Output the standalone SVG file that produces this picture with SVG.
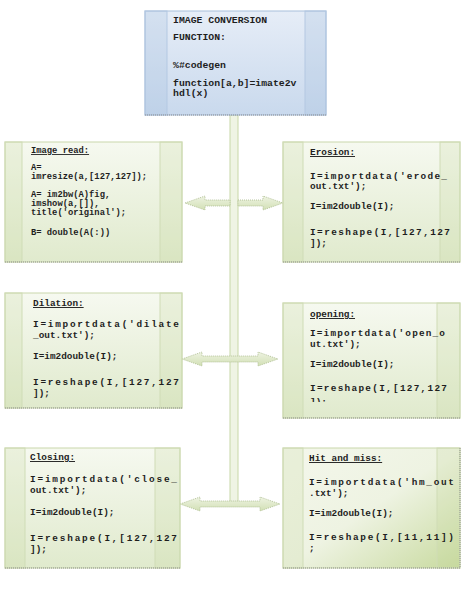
<svg xmlns="http://www.w3.org/2000/svg" width="467" height="597" viewBox="0 0 467 597">
<style>
.t{font-family:"Liberation Mono","Courier New",monospace;font-weight:bold;font-size:9.4px;fill:#1e1e1e}
.s{font-size:8.8px}
.h{font-size:9.8px}
.u{text-decoration:underline}
.box{fill:url(#gg);stroke:#c9d8ab;stroke-width:1}
.strip{fill:#c3d69b;fill-opacity:0.22;stroke:#cfdcb6;stroke-width:1}
.dot{stroke:#8f8f8f;stroke-width:1;stroke-dasharray:1 1;fill:none}
.arr{fill:url(#ag);stroke:#a8b98a;stroke-width:0.8;stroke-dasharray:1 1}
</style>
<defs>
<linearGradient id="gg" x1="0" y1="0" x2="0" y2="1">
<stop offset="0" stop-color="#f6f9f0"/>
<stop offset="1" stop-color="#e0eacd"/>
</linearGradient>
<linearGradient id="gh" x1="0" y1="0" x2="1" y2="1">
<stop offset="0" stop-color="#f4f7ec"/>
<stop offset="0.5" stop-color="#eef3e2"/>
<stop offset="1" stop-color="#c8da9f"/>
</linearGradient>
<linearGradient id="gb" x1="0" y1="0" x2="0" y2="1">
<stop offset="0" stop-color="#e6edf7"/>
<stop offset="1" stop-color="#c9d9ed"/>
</linearGradient>
<linearGradient id="ag" x1="0" y1="0" x2="0" y2="1">
<stop offset="0" stop-color="#eef3e2"/>
<stop offset="1" stop-color="#d2e0b5"/>
</linearGradient>
<clipPath id="cpOpen"><rect x="283" y="303" width="177" height="99"/></clipPath>
</defs>
<rect width="467" height="597" fill="#fff"/>

<g id="connectors">
<rect x="230" y="115" width="8" height="389" fill="#eff4e4" stroke="#c8d8a8" stroke-width="1"/>
<polygon class="arr" points="185,203 205,196 205,200 230,200 230,206 205,206 205,210"/>
<polygon class="arr" points="238,200 263,200 263,196 283,203 263,210 263,206 238,206"/>
<polygon class="arr" points="182,359 202,352 202,356 258,356 258,352 278,359 258,366 258,362 202,362 202,366"/>
<polygon class="arr" points="180,504 200,497 200,501 260,501 260,497 280,504 260,511 260,507 200,507 200,511"/>
</g>

<g id="top">
<rect x="145" y="11" width="181" height="104" fill="url(#gb)" stroke="#a7bfdc" stroke-width="1"/>
<rect x="145" y="11" width="22" height="104" fill="#9fbadb" fill-opacity="0.25" stroke="#b3c8e2"/>
<rect x="305" y="11" width="21" height="104" fill="#9fbadb" fill-opacity="0.25" stroke="#b3c8e2"/>
<line class="dot" x1="145" y1="115" x2="326" y2="115"/>
<text class="t h" x="173" y="23">IMAGE CONVERSION</text>
<text class="t h" x="173" y="40">FUNCTION:</text>
<text class="t h" x="173" y="68">%#codegen</text>
<text class="t h" x="173" y="86">function[a,b]=imate2v</text>
<text class="t h" x="173" y="96">hdl(x)</text>
</g>

<g id="imageread">
<rect class="box" x="5" y="142" width="177" height="120"/>
<rect class="strip" x="5" y="142" width="17" height="120"/>
<rect class="strip" x="160" y="142" width="22" height="120"/>
<line class="dot" x1="5" y1="262" x2="182" y2="262"/>
<text class="t s u" x="31" y="153">Image read:</text>
<text class="t s" x="31" y="170">A=</text>
<text class="t s" x="31" y="179">imresize(a,[127,127]);</text>
<text class="t s" x="31" y="197">A= im2bw(A)fig,</text>
<text class="t s" x="31" y="206">imshow(a,[]),</text>
<text class="t s" x="31" y="215">title('original');</text>
<text class="t s" x="31" y="235">B= double(A(:))</text>
</g>

<g id="erosion">
<rect class="box" x="283" y="142" width="177" height="120"/>
<rect class="strip" x="283" y="142" width="20" height="120"/>
<rect class="strip" x="440" y="142" width="20" height="120"/>
<line class="dot" x1="283" y1="262" x2="460" y2="262"/>
<text class="t u" x="310" y="155">Erosion:</text>
<text class="t" x="310" y="179" textLength="137" lengthAdjust="spacing">I=importdata('erode_</text>
<text class="t" x="310" y="189">out.txt');</text>
<text class="t" x="310" y="209">I=im2double(I);</text>
<text class="t" x="310" y="235" textLength="140" lengthAdjust="spacing">I=reshape(I,[127,127</text>
<text class="t" x="310" y="246">]);</text>
</g>

<g id="dilation">
<rect class="box" x="5" y="293" width="177" height="115"/>
<rect class="strip" x="5" y="293" width="17" height="115"/>
<rect class="strip" x="160" y="293" width="22" height="115"/>
<line class="dot" x1="5" y1="408" x2="182" y2="408"/>
<text class="t u" x="33" y="306">Dilation:</text>
<text class="t" x="33" y="327" textLength="146" lengthAdjust="spacing">I=importdata('dilate</text>
<text class="t" x="33" y="338">_out.txt');</text>
<text class="t" x="33" y="359">I=im2double(I);</text>
<text class="t" x="33" y="385" textLength="146" lengthAdjust="spacing">I=reshape(I,[127,127</text>
<text class="t" x="33" y="396">]);</text>
</g>

<g id="opening">
<rect class="box" x="283" y="303" width="177" height="115"/>
<rect class="strip" x="283" y="303" width="20" height="115"/>
<rect class="strip" x="437" y="303" width="23" height="115"/>
<line class="dot" x1="283" y1="418" x2="460" y2="418"/>
<text class="t u" x="310" y="317">opening:</text>
<text class="t" x="310" y="336" textLength="135" lengthAdjust="spacing">I=importdata('open_o</text>
<text class="t" x="310" y="347">ut.txt');</text>
<text class="t" x="310" y="367">I=im2double(I);</text>
<text class="t" x="310" y="391" textLength="137" lengthAdjust="spacing">I=reshape(I,[127,127</text>
<text class="t" x="310" y="405" clip-path="url(#cpOpen)">]);</text>
</g>

<g id="closing">
<rect class="box" x="5" y="448" width="175" height="120"/>
<rect class="strip" x="5" y="448" width="20" height="120"/>
<rect class="strip" x="155" y="448" width="25" height="120"/>
<line class="dot" x1="5" y1="568" x2="180" y2="568"/>
<text class="t u" x="30" y="460">Closing:</text>
<text class="t" x="30" y="482" textLength="147" lengthAdjust="spacing">I=importdata('close_</text>
<text class="t" x="30" y="493">out.txt');</text>
<text class="t" x="30" y="515">I=im2double(I);</text>
<text class="t" x="30" y="541" textLength="147" lengthAdjust="spacing">I=reshape(I,[127,127</text>
<text class="t" x="30" y="552">]);</text>
</g>

<g id="hitmiss">
<rect x="283" y="448" width="177" height="120" fill="url(#gh)" stroke="#c9d8ab" stroke-width="1"/>
<rect class="strip" x="283" y="448" width="20" height="120"/>
<rect class="strip" x="437" y="448" width="23" height="120"/>
<line class="dot" x1="283" y1="568" x2="460" y2="568"/>
<line class="dot" x1="460" y1="448" x2="460" y2="568"/>
<text class="t u" x="309" y="461">Hit and miss:</text>
<text class="t" x="309" y="485" textLength="145" lengthAdjust="spacing">I=importdata('hm_out</text>
<text class="t" x="309" y="496">.txt');</text>
<text class="t" x="309" y="516">I=im2double(I);</text>
<text class="t" x="309" y="540" textLength="145" lengthAdjust="spacing">I=reshape(I,[11,11])</text>
<text class="t" x="309" y="551">;</text>
</g>
</svg>
